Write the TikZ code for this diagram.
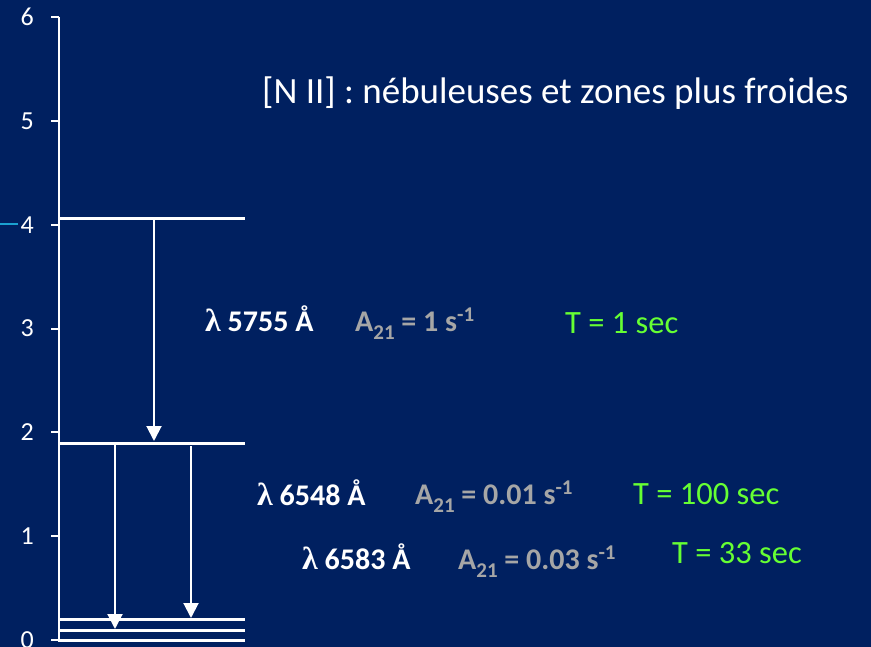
\documentclass[tikz,border=0pt]{standalone}
\usepackage{fontspec}
\setmainfont{Carlito}
\newfontfamily\lamfont{Liberation Serif}
\usetikzlibrary{arrows.meta}

\definecolor{bgblue}{HTML}{002060}
\definecolor{ratecol}{HTML}{A6A6A6}
\definecolor{timecol}{HTML}{66FF33}
\definecolor{markcol}{HTML}{1BA1D0}

\tikzset{
  axisline/.style={white, line width=2pt},
  level/.style={white, line width=3pt},
  trans/.style={white, line width=2pt, -{Triangle[width=15pt,length=15pt]}},
  ticklab/.style={anchor=east, text=white, inner sep=0pt, font=\fontsize{26}{30}\selectfont},
  wavelab/.style={anchor=base west, text=white, inner sep=0pt, font=\fontsize{30}{36}\selectfont\bfseries},
  ratelab/.style={anchor=base west, text=ratecol, inner sep=0pt, font=\fontsize{30}{36}\selectfont\bfseries},
  timelab/.style={anchor=base west, text=timecol, inner sep=0pt, font=\fontsize{32.5}{38}\selectfont},
  titlelab/.style={anchor=base west, text=white, inner sep=0pt, font=\fontsize{37}{44}\selectfont},
}

% upright serif lambda in front of each wavelength
\newcommand{\lam}{{\lamfont\fontsize{32}{36}\selectfont λ}}
% subscript index set a little larger and lower than the default
\newcommand{\idx}[1]{\raisebox{-0.28em}{\fontsize{21}{24}\selectfont #1}}

\begin{document}
\begin{tikzpicture}[x=1pt, y=-1pt]
  % canvas
  \fill[bgblue] (0,0) rectangle (871,647);
  \useasboundingbox (0,0) rectangle (871,647);

  % energy axis with ticks 0..6
  \draw[axisline] (59,17) -- (59,640);
  \foreach \v in {0,...,6} {
    \pgfmathsetmacro{\yy}{640-103.8*\v}
    \draw[axisline] (51,\yy) -- (59,\yy);
    \node[ticklab] (t\v) at (34,\yy) {\v};
  }
  % small coloured mark beside tick 4
  \draw[markcol, line width=1.5pt] (0,224) -- (18,224);

  % energy levels
  \draw[level] (58,219) -- (245,219);
  \draw[level] (58,443) -- (245,443);
  \draw[level] (58,619) -- (245,619);
  \draw[level] (58,630) -- (245,630);
  \draw[level] (58,640) -- (245,640);

  % transition end points
  \coordinate (a1) at (154,219);
  \coordinate (b1) at (154,441);
  \coordinate (a2) at (115,444);
  \coordinate (b2) at (115,629);
  \coordinate (a3) at (191,446);
  \coordinate (b3) at (191,618);

  \draw[trans] (a1) -- (b1);
  \draw[trans] (a2) -- (b2);
  \draw[trans] (a3) -- (b3);

  % title
  \node[titlelab] (title) at (262,104) {[N II] : nébuleuses et zones plus froides};

  % transition data
  \node[wavelab] (w1) at (205,331) {\lam{} 5755 Å};
  \node[ratelab] (r1) at (355,331) {A\idx{21} = 1 s\textsuperscript{-1}};
  \node[timelab] (p1) at (565,334) {T = 1 sec};

  \node[wavelab] (w2) at (257,505) {\lam{} 6548 Å};
  \node[ratelab] (r2) at (415,504) {A\idx{21} = 0.01 s\textsuperscript{-1}};
  \node[timelab] (p2) at (633,504) {T = 100 sec};

  \node[wavelab] (w3) at (302,569) {\lam{} 6583 Å};
  \node[ratelab] (r3) at (458,569) {A\idx{21} = 0.03 s\textsuperscript{-1}};
  \node[timelab] (p3) at (672,563) {T = 33 sec};
\end{tikzpicture}
\end{document}
